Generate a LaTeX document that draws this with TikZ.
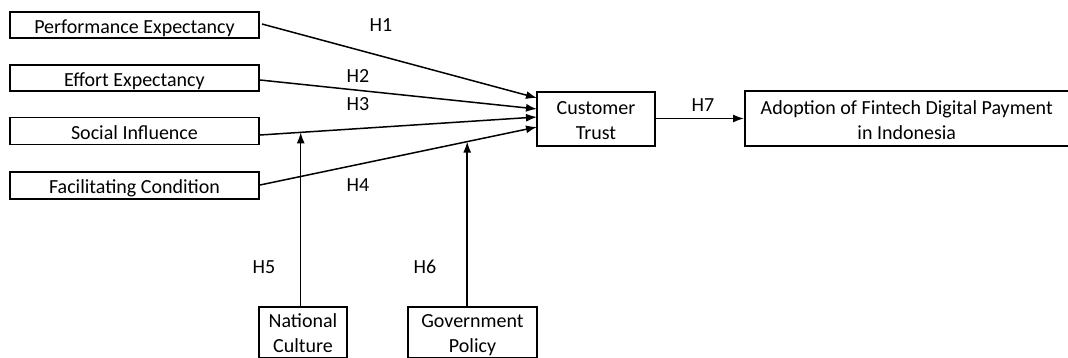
\documentclass[tikz,border=0pt]{standalone}
\usepackage{fontspec}
\setmainfont{Carlito}
\usetikzlibrary{arrows.meta}
\begin{document}
\begin{tikzpicture}[x=1pt,y=-1pt,
  box/.style={draw,line width=1.5pt,inner sep=0pt,font=\fontsize{20}{25}\selectfont,align=center},
  one/.style={text height=18pt,text depth=2pt},
  two/.style={text height=43pt,text depth=2pt},
  arr/.style={line width=1.5pt,-{Latex[length=11pt,width=8pt]}},
  lab/.style={font=\fontsize{20}{24}\selectfont,inner sep=0pt}]
\useasboundingbox (0,0) rectangle (1068,357);
\node[box,one,minimum width=249pt,minimum height=26pt] (pe) at (134.5,25) {Performance Expectancy};
\node[box,one,minimum width=249pt,minimum height=26pt] (ee) at (134.5,78) {Effort Expectancy};
\node[box,one,minimum width=249pt,minimum height=27pt] (si) at (134.5,131) {Social Influence};
\node[box,one,minimum width=249pt,minimum height=27pt] (fc) at (134.5,185.5) {Facilitating Condition};
\node[box,two,minimum width=118pt,minimum height=54pt] (ct) at (596,119) {Customer\\Trust};
\node[box,two,minimum width=324pt,minimum height=55pt,anchor=west] (ad) at (744,118.5) {Adoption of Fintech Digital Payment\\in Indonesia};
\node[box,two,minimum width=88pt,minimum height=51pt,anchor=north] (nc) at (303,306) {National\\Culture};
\node[box,two,minimum width=129pt,minimum height=51pt,anchor=north] (gp) at (472.5,306) {Government\\Policy};
\coordinate (t1) at (537,98);
\coordinate (t2) at (537,109);
\coordinate (t3) at (537,117);
\coordinate (t4) at (537,127);
\coordinate (s1) at (262,24);
\coordinate (s2) at (260,80);
\coordinate (s3) at (260,135);
\coordinate (s4) at (260,185);
\draw[arr] (s1) -- (t1);
\draw[arr] (s2) -- (t2);
\draw[arr] (s3) -- (t3);
\draw[arr] (s4) -- (t4);
\path (s3) -- (t3) coordinate[pos=0.147] (m3);
\path (s4) -- (t4) coordinate[pos=0.748] (m4);
\draw[arr] (nc.north -| m3) -- (m3);
\draw[arr] (gp.north -| m4) -- (m4);
\draw[arr] (ct.east |- ad.west) -- (ad.west);
\node[lab] (h1) at (381,25) {H1};
\node[lab] (h2) at (358,76) {H2};
\node[lab] (h3) at (358,104) {H3};
\node[lab] (h4) at (358,185) {H4};
\node[lab] (h5) at (264,267) {H5};
\node[lab] (h6) at (425,267) {H6};
\node[lab] (h7) at (703,105) {H7};
\end{tikzpicture}
\end{document}
